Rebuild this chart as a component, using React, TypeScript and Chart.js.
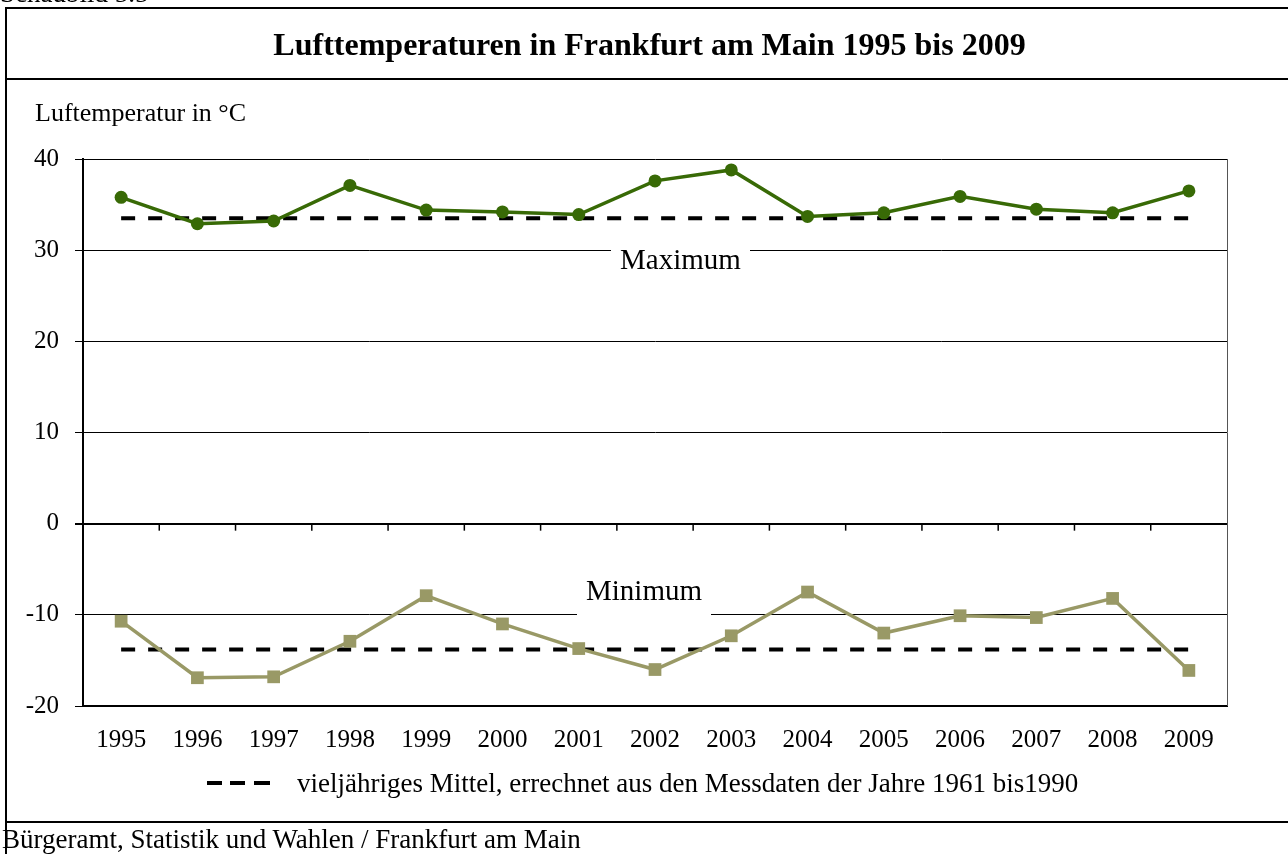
import React, { useEffect, useRef } from "react";
import { Chart, registerables } from "chart.js";

Chart.register(...registerables);

const YEARS = ["1995", "1996", "1997", "1998", "1999", "2000", "2001", "2002", "2003", "2004", "2005", "2006", "2007", "2008", "2009"];
const MAXIMUM = [35.8, 32.9, 33.2, 37.1, 34.4, 34.2, 33.9, 37.6, 38.8, 33.7, 34.1, 35.9, 34.5, 34.1, 36.5];
const MINIMUM = [-10.7, -16.9, -16.8, -12.9, -7.9, -11.0, -13.7, -16.0, -12.3, -7.5, -12.0, -10.1, -10.3, -8.2, -16.1];
const MAX_MEAN = [33.5, 33.5, 33.5, 33.5, 33.5, 33.5, 33.5, 33.5, 33.5, 33.5, 33.5, 33.5, 33.5, 33.5, 33.5];
const MIN_MEAN = [-13.8, -13.8, -13.8, -13.8, -13.8, -13.8, -13.8, -13.8, -13.8, -13.8, -13.8, -13.8, -13.8, -13.8, -13.8];
const Y_TICKS = [-20, -10, 0, 10, 20, 30, 40];

const SERIF = '"Liberation Serif", "Times New Roman", Times, serif';
const GREEN = "#386a06";
const KHAKI = "#999966";

const framePlugin = {
  id: "frame",
  beforeDatasetsDraw(chart: any) {
    const { ctx, chartArea, scales } = chart;
    ctx.save();
    ctx.strokeStyle = "#555";
    ctx.lineWidth = 1;
    ctx.beginPath();
    ctx.moveTo(Math.round(chartArea.right) + 0.5, chartArea.top);
    ctx.lineTo(Math.round(chartArea.right) + 0.5, chartArea.bottom);
    ctx.stroke();
    const y0 = scales.y.getPixelForValue(0);
    ctx.strokeStyle = "#000";
    ctx.lineWidth = 1.5;
    for (let i = 1; i < YEARS.length; i++) {
      const x = scales.x.getPixelForValue(i - 0.5);
      ctx.beginPath();
      ctx.moveTo(x, y0);
      ctx.lineTo(x, y0 + 7);
      ctx.stroke();
    }
    ctx.restore();
  },
};

function lineAt(top: number, left: number, width: number, height: number): React.CSSProperties {
  return { position: "absolute", top, left, width, height, background: "#000" };
}

export default function App() {
  const canvasRef = useRef<HTMLCanvasElement | null>(null);

  useEffect(() => {
    if (!canvasRef.current) return;
    const chart = new Chart(canvasRef.current, {
      type: "line",
      data: {
        labels: YEARS,
        datasets: [
          {
            label: "Maximum",
            data: MAXIMUM,
            borderColor: GREEN,
            backgroundColor: GREEN,
            borderWidth: 3.5,
            pointStyle: "circle",
            pointRadius: 6.5,
            pointBorderWidth: 0,
            pointBackgroundColor: GREEN,
            tension: 0,
          },
          {
            label: "Minimum",
            data: MINIMUM,
            borderColor: KHAKI,
            backgroundColor: KHAKI,
            borderWidth: 3.5,
            pointStyle: "rect",
            pointRadius: 9,
            pointBorderWidth: 0,
            pointBackgroundColor: KHAKI,
            tension: 0,
          },
          {
            label: "Mittel Maximum",
            data: MAX_MEAN,
            borderColor: "#000",
            borderWidth: 4,
            borderDash: [14, 13],
            pointRadius: 0,
            tension: 0,
          },
          {
            label: "Mittel Minimum",
            data: MIN_MEAN,
            borderColor: "#000",
            borderWidth: 4,
            borderDash: [14, 13],
            pointRadius: 0,
            tension: 0,
          },
        ],
      },
      options: {
        responsive: false,
        animation: false,
        devicePixelRatio: 1,
        layout: { padding: { left: 0, right: 61, top: 159, bottom: 88 } },
        plugins: {
          legend: { display: false },
          title: { display: false },
          tooltip: { enabled: false },
        },
        scales: {
          x: {
            type: "category",
            offset: true,
            grid: { display: false, drawTicks: false },
            border: { display: true, color: "#000", width: 2 },
            ticks: {
              color: "#000",
              font: { family: SERIF, size: 25 },
              padding: 19,
              maxRotation: 0,
              autoSkip: false,
            },
            afterFit: (scale: any) => {
              scale.height = 60;
            },
          },
          y: {
            min: -20,
            max: 40,
            afterBuildTicks: (scale: any) => {
              scale.ticks = Y_TICKS.map((v) => ({ value: v }));
            },
            grid: {
              color: "#000",
              lineWidth: (c: any) => (c.tick && c.tick.value === 0 ? 2 : 1),
              drawTicks: true,
              tickLength: 8,
            },
            border: { display: true, color: "#000", width: 2 },
            ticks: {
              color: "#000",
              font: { family: SERIF, size: 25 },
              padding: 16,
            },
            afterFit: (scale: any) => {
              scale.width = 83;
            },
          },
        },
      },
      plugins: [framePlugin],
    } as any);
    return () => chart.destroy();
  }, []);

  const text = (size: number, baseline: number, left: number, extra: React.CSSProperties = {}): React.CSSProperties => ({
    position: "absolute",
    left,
    top: baseline - 0.8375 * size,
    fontFamily: SERIF,
    fontSize: size,
    lineHeight: `${size}px`,
    color: "#000",
    whiteSpace: "nowrap",
    ...extra,
  });

  return (
    <div style={{ position: "absolute", left: 0, top: 0, width: 1288, height: 854, overflow: "hidden", background: "#fff" }}>
      <canvas ref={canvasRef} width={1288} height={854} style={{ position: "absolute", left: 0, top: 0, width: 1288, height: 854 }} />
      <div style={text(27, 3, 0)}>Schaubild 5.5</div>
      <div style={lineAt(7, 5, 1283, 2)} />
      <div style={lineAt(7, 5, 2, 847)} />
      <div style={lineAt(78, 5, 1283, 2)} />
      <div style={lineAt(821, 5, 1283, 2)} />
      <div style={text(32, 55, 6, { width: 1287, textAlign: "center", fontWeight: "bold" })}>
        Lufttemperaturen in Frankfurt am Main 1995 bis 2009
      </div>
      <div style={text(26, 122, 35)}>Luftemperatur in °C</div>
      <div
        style={{
          position: "absolute",
          left: 611,
          top: 244,
          width: 139,
          height: 30,
          background: "#fff",
          fontFamily: SERIF,
          fontSize: 29,
          lineHeight: "30px",
          textAlign: "center",
          color: "#000",
        }}
      >
        Maximum
      </div>
      <div
        style={{
          position: "absolute",
          left: 577,
          top: 575,
          width: 134,
          height: 41,
          background: "#fff",
          fontFamily: SERIF,
          fontSize: 29,
          lineHeight: "30px",
          textAlign: "center",
          color: "#000",
        }}
      >
        Minimum
      </div>
      <div style={lineAt(781, 207, 15, 4)} />
      <div style={lineAt(781, 230, 15, 4)} />
      <div style={lineAt(781, 254, 16, 4)} />
      <div style={text(27, 793, 297)}>vieljähriges Mittel, errechnet aus den Messdaten der Jahre 1961 bis1990</div>
      <div style={text(27, 849, 2)}>Bürgeramt, Statistik und Wahlen / Frankfurt am Main</div>
    </div>
  );
}
